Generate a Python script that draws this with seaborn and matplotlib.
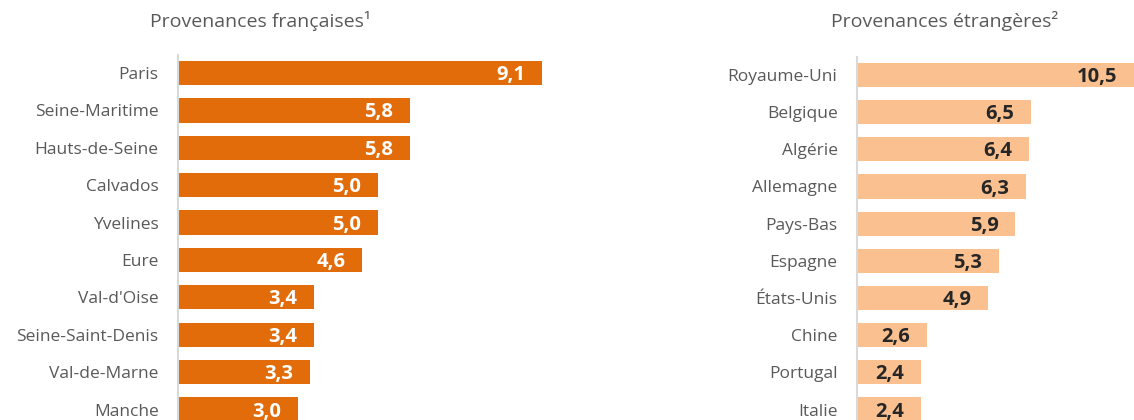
import pandas as pd
import seaborn as sns
import matplotlib.pyplot as plt

# data
fr_labels = ['Paris', 'Seine-Maritime', 'Hauts-de-Seine', 'Calvados', 'Yvelines',
             'Eure', "Val-d'Oise", 'Seine-Saint-Denis', 'Val-de-Marne', 'Manche']
fr_values = [9.1, 5.8, 5.8, 5.0, 5.0, 4.6, 3.4, 3.4, 3.3, 3.0]

et_labels = ['Royaume-Uni', 'Belgique', 'Algérie', 'Allemagne', 'Pays-Bas',
             'Espagne', 'États-Unis', 'Chine', 'Portugal', 'Italie']
et_values = [10.5, 6.5, 6.4, 6.3, 5.9, 5.3, 4.9, 2.6, 2.4, 2.4]

fr_df = pd.DataFrame({'provenance': fr_labels, 'part': fr_values})
et_df = pd.DataFrame({'provenance': et_labels, 'part': et_values})

sns.set_style('white')
plt.rcParams['font.family'] = ['Open Sans', 'DejaVu Sans']

W, H = 1134, 420
fig = plt.figure(figsize=(W / 100, H / 100), dpi=100)

grey = '#595959'


def panel(df, left_px, top_px, width_px, xmax, color, txt_color, title, title_x):
    ax = fig.add_axes([left_px / W, 0, width_px / W, (H - top_px) / H])
    sns.barplot(data=df, x='part', y='provenance', color=color, width=0.65,
                saturation=1, linewidth=0, ax=ax)
    ax.set_xlim(0, xmax)
    ax.set_ylim(9.28, -0.48)
    ax.set_xlabel('')
    ax.set_ylabel('')
    ax.set_xticks([])
    ax.tick_params(axis='y', length=0, pad=14, labelsize=12.5, labelcolor=grey)
    for s in ['top', 'right', 'bottom']:
        ax.spines[s].set_visible(False)
    ax.spines['left'].set_color('#D9D9D9')
    ax.spines['left'].set_linewidth(1.5)
    for p, v in zip(ax.patches, df['part']):
        ax.annotate(f'{v:.1f}'.replace('.', ','),
                    xy=(min(p.get_width(), xmax), p.get_y() + p.get_height() / 2),
                    xytext=(-12, -1.5), textcoords='offset points',
                    ha='right', va='center', fontsize=14.5, fontweight='bold',
                    color=txt_color)
    fig.text(title_x / W, 1 - 21 / H, title, ha='center', va='center',
             fontsize=14, color=grey)
    return ax


panel(fr_df, 178, 55, 400, 10.0, '#E36C0A', 'white',
      'Provenances françaises¹', 260)
panel(et_df, 857, 57, 277, 277 / 26.8, '#FAC090', '#262626',
      'Provenances étrangères²', 945)

fig.savefig('out.png', dpi=100)
